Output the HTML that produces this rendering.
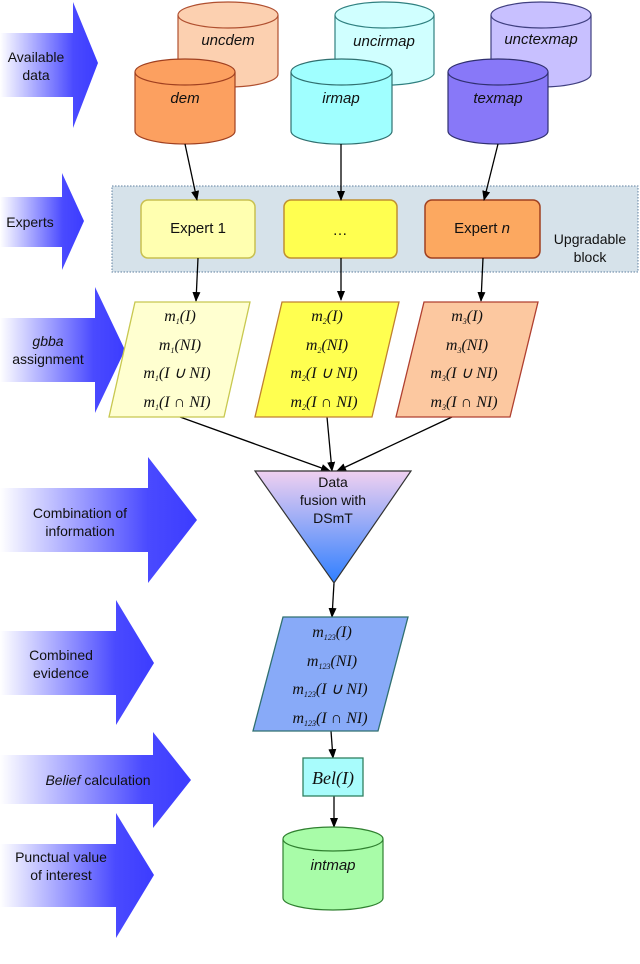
<!DOCTYPE html>
<html><head><meta charset="utf-8">
<style>
html,body{margin:0;padding:0;background:#fff;}
svg{display:block;}
text{font-family:"Liberation Sans",sans-serif;}
.m text, text.m{font-family:"Liberation Serif",serif;font-style:italic;font-size:16px;}
.s{font-size:8px;font-style:italic;}
</style></head><body>
<svg width="640" height="964" viewBox="0 0 640 964" xmlns="http://www.w3.org/2000/svg">
<defs>
<linearGradient id="ag" x1="0" x2="1" y1="0" y2="0">
<stop offset="0" stop-color="#ffffff"/><stop offset="0.75" stop-color="#4a4aff"/><stop offset="1" stop-color="#3c3cff"/>
</linearGradient>
<linearGradient id="tg" x1="0" x2="0" y1="0" y2="1">
<stop offset="0" stop-color="#f0d0f0"/><stop offset="1" stop-color="#2f7fff"/>
</linearGradient>
<marker id="ah" markerWidth="10" markerHeight="10" refX="9" refY="5" orient="auto" markerUnits="userSpaceOnUse">
<path d="M0,1 L10,5 L0,9 Z" fill="#000"/>
</marker>
</defs>

<path d="M0,33 H73 V2 L98,63 L73,128 V97 H0 Z" fill="url(#ag)"/>
<path d="M0,197 H62 V173 L84,221 L62,270 V247 H0 Z" fill="url(#ag)"/>
<path d="M0,318 H95 V287 L125,350 L95,413 V382 H0 Z" fill="url(#ag)"/>
<path d="M0,488 H148 V457 L197,520 L148,583 V552 H0 Z" fill="url(#ag)"/>
<path d="M0,631 H116 V600 L154,663 L116,725 V695 H0 Z" fill="url(#ag)"/>
<path d="M0,755 H153 V732 L191,780 L153,828 V804 H0 Z" fill="url(#ag)"/>
<path d="M0,844 H116 V813 L154,875 L116,938 V907 H0 Z" fill="url(#ag)"/>

<g font-size="14" fill="#111" text-anchor="middle">
<text x="36" y="62">Available</text><text x="36" y="80">data</text>
<text x="30" y="227">Experts</text>
<text x="48" y="346" font-style="italic">gbba</text><text x="48" y="364">assignment</text>
<text x="80" y="518">Combination of</text><text x="80" y="536">information</text>
<text x="61" y="660">Combined</text><text x="61" y="678">evidence</text>
<text x="98" y="785"><tspan font-style="italic">Belief</tspan> calculation</text>
<text x="61" y="862">Punctual value</text><text x="61" y="880">of interest</text>
</g>

<g stroke-width="1.2">
<path d="M178,15 V74 A50,13 0 0 0 278,74 V15" fill="#fcd0b0" stroke="#b05030"/>
<ellipse cx="228" cy="15" rx="50" ry="13" fill="#fcd0b0" stroke="#b05030"/>
<path d="M335,15 V74 A50,13 0 0 0 434,74 V15" fill="#d0ffff" stroke="#308080"/>
<ellipse cx="384.5" cy="15" rx="49.5" ry="13" fill="#d0ffff" stroke="#308080"/>
<path d="M491,15 V74 A50,13 0 0 0 591,74 V15" fill="#c8c0ff" stroke="#404080"/>
<ellipse cx="541" cy="15" rx="50" ry="13" fill="#c8c0ff" stroke="#404080"/>
<path d="M135,72 V131 A50,13 0 0 0 235,131 V72" fill="#fca060" stroke="#a04020"/>
<ellipse cx="185" cy="72" rx="50" ry="13" fill="#fca060" stroke="#a04020"/>
<path d="M291,72 V131 A50,13 0 0 0 392,131 V72" fill="#a0ffff" stroke="#307070"/>
<ellipse cx="341.5" cy="72" rx="50.5" ry="13" fill="#a0ffff" stroke="#307070"/>
<path d="M448,72 V131 A50,13 0 0 0 548,131 V72" fill="#8878f8" stroke="#303070"/>
<ellipse cx="498" cy="72" rx="50" ry="13" fill="#8878f8" stroke="#303070"/>
</g>
<g font-size="15" font-style="italic" fill="#111" text-anchor="middle">
<text x="228" y="45">uncdem</text><text x="384" y="46">uncirmap</text><text x="541" y="44">unctexmap</text>
<text x="185" y="103">dem</text><text x="341" y="103">irmap</text><text x="498" y="103">texmap</text>
</g>

<rect x="112" y="186" width="526" height="86" fill="#d6e2ea" stroke="#6080a0" stroke-dasharray="1.5,1.5"/>
<rect x="141" y="200" width="114" height="58" rx="7" fill="#ffffb0" stroke="#c8c050" stroke-width="1.5"/>
<rect x="284" y="200" width="113" height="58" rx="7" fill="#ffff50" stroke="#c09030" stroke-width="1.5"/>
<rect x="425" y="200" width="115" height="58" rx="7" fill="#fca860" stroke="#a04020" stroke-width="1.5"/>
<g font-size="15" fill="#111" text-anchor="middle">
<text x="198" y="233">Expert 1</text>
<text x="340" y="235">…</text>
<text x="482" y="233">Expert <tspan font-style="italic">n</tspan></text>
<text x="590" y="244" font-size="14">Upgradable</text><text x="590" y="262" font-size="14">block</text>
</g>

<g stroke="#000" stroke-width="1.3" marker-end="url(#ah)">
<line x1="185" y1="144" x2="197" y2="200"/>
<line x1="341" y1="144" x2="341" y2="200"/>
<line x1="498" y1="144" x2="484" y2="200"/>
<line x1="198" y1="258" x2="196" y2="301"/>
<line x1="341" y1="258" x2="341" y2="300"/>
<line x1="483" y1="258" x2="481" y2="301"/>
<line x1="180" y1="417" x2="330" y2="471"/>
<line x1="327" y1="417" x2="332" y2="471"/>
<line x1="452" y1="417" x2="337" y2="471"/>
<line x1="334" y1="583" x2="332" y2="617"/>
<line x1="331" y1="731" x2="333" y2="758"/>
<line x1="334" y1="796" x2="334" y2="827"/>
</g>

<path d="M135,302 H250 L224,417 H109 Z" fill="#ffffd0" stroke="#c8c850" stroke-width="1.3"/>
<path d="M282,302 H399 L372,417 H255 Z" fill="#ffff50" stroke="#c08030" stroke-width="1.3"/>
<path d="M424,302 H538 L510,417 H396 Z" fill="#fcc8a0" stroke="#b04030" stroke-width="1.3"/>
<g class="m" fill="#111" text-anchor="middle">
<text x="180" y="321">m<tspan class="s" dy="3">1</tspan><tspan dy="-3">(I)</tspan></text>
<text x="180" y="350">m<tspan class="s" dy="3">1</tspan><tspan dy="-3">(NI)</tspan></text>
<text x="177" y="378">m<tspan class="s" dy="3">1</tspan><tspan dy="-3">(I ∪ NI)</tspan></text>
<text x="177" y="407">m<tspan class="s" dy="3">1</tspan><tspan dy="-3">(I ∩ NI)</tspan></text>
<text x="327" y="321">m<tspan class="s" dy="3">2</tspan><tspan dy="-3">(I)</tspan></text>
<text x="327" y="350">m<tspan class="s" dy="3">2</tspan><tspan dy="-3">(NI)</tspan></text>
<text x="324" y="378">m<tspan class="s" dy="3">2</tspan><tspan dy="-3">(I ∪ NI)</tspan></text>
<text x="324" y="407">m<tspan class="s" dy="3">2</tspan><tspan dy="-3">(I ∩ NI)</tspan></text>
<text x="467" y="321">m<tspan class="s" dy="3">3</tspan><tspan dy="-3">(I)</tspan></text>
<text x="467" y="350">m<tspan class="s" dy="3">3</tspan><tspan dy="-3">(NI)</tspan></text>
<text x="464" y="378">m<tspan class="s" dy="3">3</tspan><tspan dy="-3">(I ∪ NI)</tspan></text>
<text x="464" y="407">m<tspan class="s" dy="3">3</tspan><tspan dy="-3">(I ∩ NI)</tspan></text>
</g>

<path d="M255,471 H411 L334,583 Z" fill="url(#tg)" stroke="#333" stroke-width="1.2"/>
<g font-size="14" fill="#111" text-anchor="middle">
<text x="333" y="487">Data</text><text x="333" y="505">fusion with</text><text x="333" y="523">DSmT</text>
</g>

<path d="M283,617 H408 L378,731 H253 Z" fill="#88aaf8" stroke="#307070" stroke-width="1.3"/>
<g class="m" fill="#111" text-anchor="middle">
<text x="332" y="637">m<tspan class="s" dy="3">123</tspan><tspan dy="-3">(I)</tspan></text>
<text x="332" y="666">m<tspan class="s" dy="3">123</tspan><tspan dy="-3">(NI)</tspan></text>
<text x="330" y="694">m<tspan class="s" dy="3">123</tspan><tspan dy="-3">(I ∪ NI)</tspan></text>
<text x="330" y="723">m<tspan class="s" dy="3">123</tspan><tspan dy="-3">(I ∩ NI)</tspan></text>
</g>

<rect x="303" y="758" width="60" height="38" fill="#a8fcfc" stroke="#308060" stroke-width="1.3"/>
<text x="333" y="784" class="m" style="font-size:18px" text-anchor="middle" fill="#111">Bel(I)</text>

<path d="M283,839 V898 A50,12 0 0 0 383,898 V839" fill="#a8fca8" stroke="#308030" stroke-width="1.2"/>
<ellipse cx="333" cy="839" rx="50" ry="12" fill="#a8fca8" stroke="#308030" stroke-width="1.2"/>
<text x="333" y="870" font-size="15" font-style="italic" text-anchor="middle" fill="#111">intmap</text>

<text x="73" y="979" font-size="20" fill="#222">Fig. 1 Diagram of the proposed fusion process</text>
</svg>
</body></html>
